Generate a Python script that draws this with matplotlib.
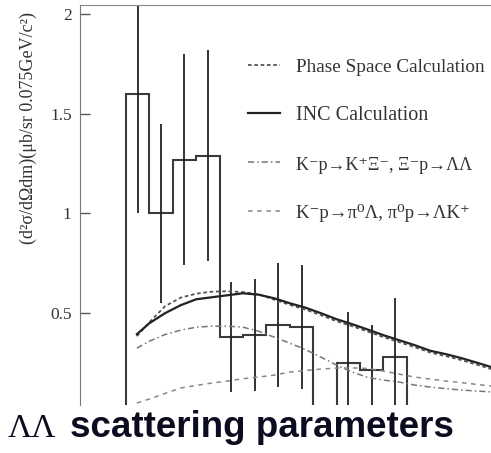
import numpy as np
import matplotlib
matplotlib.use("Agg")
import matplotlib.pyplot as plt

# Lambda-Lambda invariant mass spectrum (GeV/c^2), bins of 0.075 GeV/c^2
bin_edges = [2.225, 2.300, 2.375, 2.450, 2.525, 2.600, 2.675,
             2.750, 2.825, 2.900, 2.975, 3.050, 3.125]
counts = [1.60, 1.00, 1.27, 1.29, 0.38, 0.39, 0.44, 0.43, 0.0, 0.25, 0.215, 0.28]
errors = [0.60, 0.45, 0.53, 0.53, 0.275, 0.28, 0.31, 0.31, np.nan, 0.255, 0.225, 0.295]

# calculated curves
mass = [2.26, 2.30, 2.35, 2.40, 2.45, 2.50, 2.55, 2.60, 2.65, 2.70, 2.75, 2.80,
        2.85, 2.90, 2.95, 3.00, 3.05, 3.10, 3.15, 3.20, 3.25, 3.30, 3.35, 3.40]
inc_calc = [0.395, 0.45, 0.50, 0.54, 0.57, 0.58, 0.59, 0.60, 0.593, 0.575, 0.55, 0.528,
            0.50, 0.47, 0.445, 0.418, 0.39, 0.365, 0.34, 0.312, 0.295, 0.275, 0.252, 0.228]
phase_space = [0.385, 0.455, 0.535, 0.578, 0.598, 0.608, 0.61, 0.606, 0.595, 0.568, 0.542, 0.518,
               0.49, 0.46, 0.435, 0.408, 0.38, 0.355, 0.33, 0.303, 0.285, 0.265, 0.242, 0.218]
xi_channel = [0.325, 0.36, 0.393, 0.415, 0.43, 0.435, 0.435, 0.43, 0.41, 0.38, 0.35, 0.318,
              0.28, 0.24, 0.205, 0.178, 0.165, 0.155, 0.14, 0.13, 0.122, 0.115, 0.11, 0.105]
pi_channel = [0.05, 0.07, 0.098, 0.125, 0.138, 0.15, 0.16, 0.172, 0.18, 0.19, 0.205, 0.213,
              0.22, 0.225, 0.226, 0.223, 0.21, 0.195, 0.18, 0.17, 0.16, 0.152, 0.143, 0.134]

labels = ["Phase Space Calculation", "INC Calculation",
          "K\u207bp\u2192K\u207a\u039e\u207b, \u039e\u207bp\u2192\u039b\u039b",
          "K\u207bp\u2192\u03c0\u2070\u039b, \u03c0\u2070p\u2192\u039bK\u207a"]

plt.rcParams['font.family'] = ['Liberation Serif', 'DejaVu Serif']

fig = plt.figure(figsize=(4.91, 4.53), dpi=100)
ax = fig.add_axes([80/491, 1 - 405/453, 1 - 80/491, 400/453])

centers = 0.5 * (np.array(bin_edges[:-1]) + np.array(bin_edges[1:]))
ax.stairs(counts, bin_edges, color='#3a3a3a', lw=1.5)
ax.errorbar(centers, counts, yerr=errors, fmt='none', ecolor='#222222', elinewidth=1.3, capsize=0)

ax.plot(mass, phase_space, color='#555555', lw=1.3, ls=(0, (2, 1.5)), label=labels[0])
ax.plot(mass, inc_calc, color='#222222', lw=1.6, label=labels[1])
ax.plot(mass, xi_channel, color='#777777', lw=1.1, ls=(0, (4, 2, 1, 2)), label=labels[2])
ax.plot(mass, pi_channel, color='#888888', lw=1.1, ls=(0, (3, 3)), label=labels[3])

ax.set_xlim(2.0776, 3.3948)
ax.set_ylim(0.04, 2.045)
ax.set_yticks([0.5, 1, 1.5, 2])
ax.set_yticklabels(['0.5', '1', '1.5', '2'])
ax.set_xticks([])
ax.tick_params(axis='y', direction='in', length=7, width=1, colors='#555555',
               labelcolor='#333333', labelsize=12.5, pad=6)
ax.spines['right'].set_visible(False)
ax.spines['bottom'].set_visible(False)
ax.spines['left'].set_color('#777777')
ax.spines['top'].set_color('#888888')

leg = ax.legend(loc='upper left', bbox_to_anchor=(168/411, 0.868), frameon=False,
                fontsize=14.5, handlelength=1.6, handletextpad=0.8, labelspacing=1.5,
                borderaxespad=0, borderpad=0)
for t in leg.get_texts():
    t.set_color('#333333')
# shrink the long labels so they stay inside the figure
leg.get_texts()[0].set_fontsize(13.9)
leg.get_texts()[2].set_fontsize(13)
leg.get_texts()[3].set_fontsize(13.5)

fig.text(28/491, 1 - 128/453, "(d²σ/dΩdm)(μb/sr 0.075GeV/c²)", rotation=90,
         ha='center', va='center', fontsize=13, color='#333333')

# caption below the plot
fig.text(8/491, 1 - 437/453, "ΛΛ", fontsize=24, color='#0c0c20',
         family='Liberation Serif', va='baseline', ha='left')
fig.text(70/491, 1 - 437/453, "scattering parameters", fontsize=26.5, color='#0c0c20',
         family='Liberation Sans', weight='bold', va='baseline', ha='left')

fig.savefig("out.png", dpi=100)
